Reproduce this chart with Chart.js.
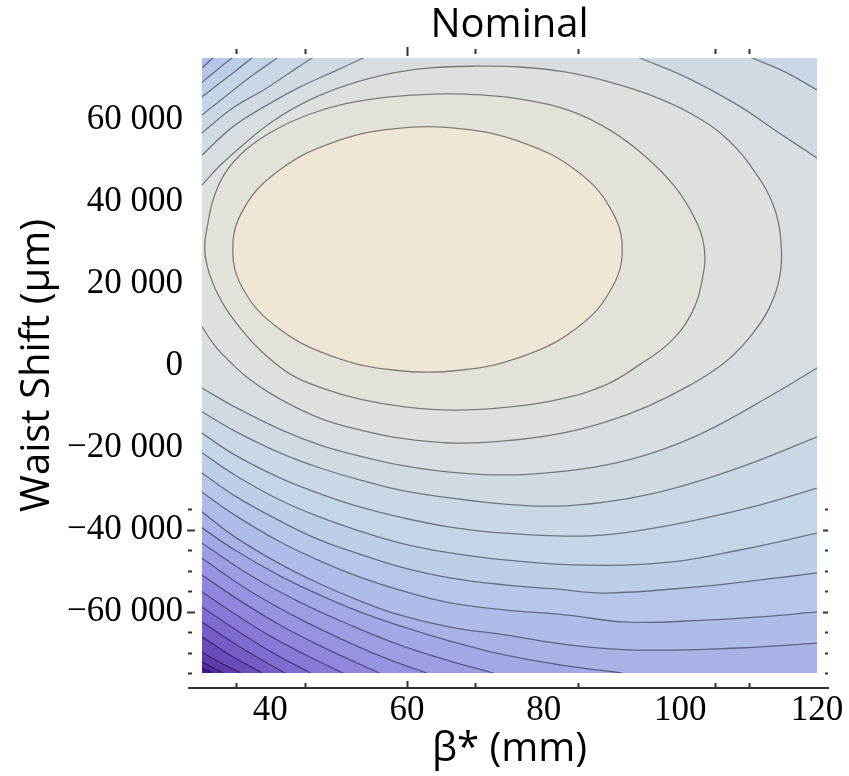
<!DOCTYPE html>
<html>
<head>
<meta charset="utf-8">
<script src="https://cdn.jsdelivr.net/npm/chart.js@4/dist/chart.umd.min.js"></script>
<style>
  html, body { margin: 0; padding: 0; background: #ffffff; }
  canvas { display: block; }
</style>
</head>
<body>
<canvas id="chart" width="849" height="776"></canvas>
<script>
// Scan window: β* in mm, waist shift in µm
const betaRange = [30, 120];
const shiftRange = [-75000, 75000];

// Labelled axis ticks
const betaTicks = [40, 60, 80, 100, 120];
const shiftTicks = [-60000, -40000, -20000, 0, 20000, 40000, 60000];

// Small frame tick marks
const betaFrameTicks = [35, 45, 60, 70, 85, 105, 110];
const betaFrameMajor = [60];
const shiftFrameTicks = [-35000, -40000, -45000, -50000, -55000, -60000, -65000, -70000, -75000];
const shiftFrameMajor = [-40000, -60000];

// Contour traces as [β*, waist shift] pairs, highest level first.
// Traces that leave the window are split into the visible pieces.
const c01 = [[91.5,28300],[89.7,38500],[84.8,47500],[77.2,54200],[68.0,57700],[58.0,57700],[48.8,54200],[41.2,47500],[36.2,38500],[34.5,28300],[36.2,18100],[41.2,9100],[48.8,2400],[58.0,-1100],[68.0,-1100],[77.2,2400],[84.8,9100],[89.7,18100]];
const c02 = [[30.4,28200],[30.9,35000],[31.8,41300],[33.5,47200],[36.4,52600],[40.4,57200],[45.4,61100],[50.9,63800],[57.5,65500],[64.1,66200],[70.7,66000],[77.3,64800],[83.9,62100],[89.7,57400],[94.8,51100],[99.1,43800],[102.0,36200],[103.5,28700],[103.2,20900],[101.6,12600],[98.5,5700],[94.2,400],[89.0,-4800],[82.4,-8200],[75.1,-10100],[67.0,-10900],[59.7,-10100],[53.1,-8200],[47.6,-5500],[42.9,-2100],[38.8,3300],[35.6,9100],[32.9,15500],[31.2,21800]];
const c03 = [[30.0,44000],[32.6,48700],[36.0,53800],[40.2,59400],[45.4,64500],[51.2,68400],[57.8,71300],[63.4,72600],[70.0,73000],[76.5,72800],[83.1,71600],[89.7,69100],[96.3,65500],[102.1,60900],[107.0,55000],[110.9,47200],[113.6,39100],[114.7,30600],[114.6,22100],[113.0,14000],[110.2,7000],[106.4,600],[101.4,-4800],[95.3,-9900],[89.0,-13800],[82.1,-16700],[74.3,-18400],[66.3,-18900],[59.0,-17700],[53.1,-15700],[48.0,-13300],[43.6,-10100],[39.7,-6500],[36.4,-2600],[34.1,900],[31.9,4800],[30.0,9400]];
const c04TopLeft = [[30.0,51300],[34.5,58200],[39.5,63500],[44.3,67900],[49.2,71600],[53.6,75000]];
const c04TopRight = [[94.1,75000],[101.1,70100],[108.4,63500],[114.3,56900],[120.0,50600]];
const c04Lower = [[120.0,-600],[113.4,-7200],[103.6,-16200],[96.3,-21100],[89.0,-24300],[81.7,-26000],[74.3,-26700],[66.3,-26000],[59.0,-24300],[53.1,-22100],[47.3,-19400],[41.6,-15700],[34.8,-10100],[30.0,-5500]];
const c05TopLeft = [[30.0,56700],[34.5,62800],[39.5,67700],[43.9,72600],[46.1,75000]];
const c05TopRight = [[110.5,75000],[115.3,71600],[120.0,67200]];
const c05Lower = [[120.0,-17400],[111.7,-23000],[103.6,-27700],[96.3,-31100],[89.0,-33300],[81.7,-34300],[74.3,-33800],[66.3,-32300],[59.0,-30400],[53.1,-27900],[47.3,-25000],[41.4,-21300],[34.8,-16000],[30.0,-11300]];
const c06TopLeft = [[30.0,61100],[33.7,66000],[37.5,70900],[41.0,75000]];
const c06Lower = [[120.0,-29900],[111.7,-34000],[103.6,-37200],[96.3,-39600],[89.0,-41300],[83.1,-41600],[74.3,-40900],[66.3,-39400],[59.0,-37000],[53.1,-34500],[47.3,-31300],[41.4,-27400],[34.8,-21800],[30.0,-16500]];
const c07TopLeft = [[30.0,65500],[32.6,68900],[35.1,72100],[37.3,75000]];
const c07Lower = [[120.0,-40900],[108.7,-45000],[98.8,-47900],[86.5,-48700],[74.3,-47400],[66.3,-45700],[59.0,-43300],[53.1,-40400],[47.3,-37000],[41.4,-32800],[34.8,-26700],[30.0,-21300]];
const c08TopLeft = [[30.0,69100],[32.2,72100],[34.4,75000]];
const c08Lower = [[120.0,-50600],[111.7,-52300],[103.6,-53800],[89.0,-55500],[81.7,-54500],[74.3,-53500],[66.3,-51800],[59.0,-49100],[53.1,-46000],[47.3,-42600],[41.4,-37900],[34.8,-31800],[30.0,-26200]];
const c09TopLeft = [[30.0,72600],[31.6,75000]];
const c09Lower = [[120.0,-60100],[111.7,-61300],[103.6,-62100],[92.3,-62600],[83.1,-60800],[74.3,-59600],[66.3,-57900],[59.0,-54800],[53.1,-51600],[47.3,-47700],[41.4,-43000],[34.8,-36500],[30.0,-30900]];
const c10 = [[120.0,-67700],[108.4,-68900],[93.8,-69400],[83.9,-68200],[74.3,-65700],[66.3,-63800],[59.0,-60900],[53.1,-57400],[47.3,-53300],[41.4,-48400],[34.8,-41800],[30.0,-35700]];
const c11 = [[91.5,-75000],[82.4,-73000],[74.3,-70600],[66.3,-67200],[59.0,-63500],[53.1,-60100],[47.3,-56000],[41.4,-51300],[34.8,-45000],[30.0,-39600]];
const c12 = [[72.6,-75000],[66.3,-72100],[59.0,-68200],[51.7,-63300],[44.3,-57700],[37.0,-51100],[30.0,-43300]];
const c13 = [[62.9,-75000],[57.5,-71800],[51.7,-67700],[44.3,-61800],[37.0,-55000],[30.0,-47000]];
const c14 = [[56.0,-75000],[51.7,-71800],[47.3,-68400],[41.4,-63300],[35.6,-57400],[30.0,-51100]];
const c15 = [[50.6,-75000],[45.8,-71100],[40.2,-66200],[34.8,-60600],[30.0,-55200]];
const c16 = [[45.9,-75000],[40.7,-70400],[35.6,-65200],[30.0,-58900]];
const c17 = [[42.1,-75000],[36.0,-69100],[30.0,-62600]];
const c18 = [[38.8,-75000],[34.4,-70900],[30.0,-66200]];
const c19 = [[35.7,-75000],[32.8,-72600],[30.0,-69900]];
const c20 = [[33.1,-75000],[30.0,-72300]];
const c21 = [[31.5,-75000],[30.0,-73800]];

// Band fills, from the innermost contour outwards to the lowest corner
const bandColors = ['#F0E6D5','#E3E2DA','#DDE0DD','#D7DDE0','#D0DAE3','#CAD8E6','#C4D5E8','#BDCEE9','#B6C5E9','#AFBBE8','#A9B1E7','#A3A7E6','#9D9DE4','#9792E1','#9086DD','#8879D8','#7F6BD1','#765CC8','#6B4CBD','#603CB1','#552BA3','#4A1A95'];

const contourArcs = [
  [c01], [c02], [c03],
  [c04TopLeft, c04TopRight, c04Lower],
  [c05TopLeft, c05TopRight, c05Lower],
  [c06TopLeft, c06Lower],
  [c07TopLeft, c07Lower],
  [c08TopLeft, c08Lower],
  [c09TopLeft, c09Lower],
  [c10], [c11], [c12], [c13], [c14], [c15], [c16], [c17], [c18], [c19], [c20], [c21]
];

// ---- closing clipped traces around the outside of the window ----
const [X_MIN, X_MAX] = betaRange;
const [Y_MIN, Y_MAX] = shiftRange;
const EPS = 1e-9;

function edgeOf(p) {
  if (p[0] <= X_MIN + EPS) return 'left';
  if (p[0] >= X_MAX - EPS) return 'right';
  if (p[1] >= Y_MAX - EPS) return 'top';
  if (p[1] <= Y_MIN + EPS) return 'bottom';
  return null;
}
// position along the frame, clockwise on screen, starting at the lower-left corner
function perimeter(p) {
  const e = edgeOf(p);
  if (e === 'left') return (p[1] - Y_MIN) / (Y_MAX - Y_MIN);
  if (e === 'top') return 1 + (p[0] - X_MIN) / (X_MAX - X_MIN);
  if (e === 'right') return 2 + (Y_MAX - p[1]) / (Y_MAX - Y_MIN);
  return 3 + (X_MAX - p[0]) / (X_MAX - X_MIN);
}
const outX = (X_MAX - X_MIN) * 0.07;
const outY = (Y_MAX - Y_MIN) * 0.055;
const outerCorners = [
  [1, [X_MIN - outX, Y_MAX + outY]],
  [2, [X_MAX + outX, Y_MAX + outY]],
  [3, [X_MAX + outX, Y_MIN - outY]],
  [4, [X_MIN - outX, Y_MIN - outY]]
];
// continue a trace from q through edge point p to just outside the window
function beyond(p, q) {
  let x = 2 * p[0] - q[0];
  let y = 2 * p[1] - q[1];
  const e = edgeOf(p);
  if (e === 'left') x = Math.min(x, X_MIN - outX * 0.3);
  if (e === 'right') x = Math.max(x, X_MAX + outX * 0.3);
  if (e === 'top') y = Math.max(y, Y_MAX + outY * 0.3);
  if (e === 'bottom') y = Math.min(y, Y_MIN - outY * 0.3);
  return [x, y];
}
function walkOutside(arcA, arcB) {
  const from = arcA[arcA.length - 1], fromNb = arcA[arcA.length - 2];
  const to = arcB[0], toNb = arcB[1];
  const s0 = perimeter(from);
  let s1 = perimeter(to);
  if (s1 <= s0) s1 += 4;
  const pts = [beyond(from, fromNb)];
  [0, 4].forEach(shift => {
    outerCorners.forEach(([s, c]) => {
      if (s + shift > s0 && s + shift < s1) pts.push(c);
    });
  });
  pts.push(beyond(to, toNb));
  return pts;
}
const isClosed = arcs => arcs.length === 1 && edgeOf(arcs[0][0]) === null;
function contourShape(arcs) {
  if (isClosed(arcs)) return arcs[0].slice();
  const pts = [];
  arcs.forEach((arc, i) => {
    pts.push(...arc);
    pts.push(...walkOutside(arc, arcs[(i + 1) % arcs.length]));
  });
  return pts;
}
const closedFlags = contourArcs.map(isClosed);

const datasets = contourArcs.map((arcs, i) => ({
  data: contourShape(arcs).map(([x, y]) => ({ x, y })),
  showLine: true,
  spanGaps: true,
  fill: 'shape',
  backgroundColor: bandColors[i],
  borderColor: 'rgba(0,0,0,0.45)',
  borderWidth: 1.3,
  pointRadius: 0,
  pointHoverRadius: 0,
  pointHitRadius: 0,
  tension: 0.4,
  capBezierPoints: false,
  clip: 0
}));

function shiftLabel(v) {
  if (v === 0) return '0';
  const s = String(Math.abs(v));
  return (v < 0 ? '\u2212' : '') + s.slice(0, s.length - 3) + ' ' + s.slice(-3);
}

// closed traces are drawn as smooth loops
const closedTraces = {
  id: 'closedTraces',
  afterDatasetUpdate(chart, args) {
    const line = args.meta.dataset;
    if (line && closedFlags[args.index]) {
      line._loop = true;
      line._fullLoop = true;
    }
  }
};

// lowest band underneath all contour fills
const plotBackground = {
  id: 'plotBackground',
  beforeDatasetsDraw(chart) {
    const { ctx, chartArea: a } = chart;
    ctx.save();
    ctx.fillStyle = bandColors[bandColors.length - 1];
    ctx.fillRect(a.left, a.top, a.right - a.left, a.bottom - a.top);
    ctx.restore();
  }
};

// axis line under the plot and the small frame tick marks
const frameMarks = {
  id: 'frameMarks',
  afterDraw(chart) {
    const { ctx, chartArea: a, scales: { x, y } } = chart;
    ctx.save();
    ctx.strokeStyle = '#333333';
    ctx.lineWidth = 2;
    ctx.beginPath();
    ctx.moveTo(a.left - 14, a.bottom + 15);
    ctx.lineTo(a.right + 12, a.bottom + 15);
    ctx.stroke();
    ctx.beginPath();
    betaFrameTicks.forEach(v => {
      const px = Math.round(x.getPixelForValue(v)) + 0.5;
      const major = betaFrameMajor.includes(v);
      ctx.moveTo(px, a.bottom + 15);
      ctx.lineTo(px, a.bottom + (major ? 8 : 10));
      ctx.moveTo(px, a.top - (major ? 11 : 9));
      ctx.lineTo(px, a.top - (major ? 2 : 4));
    });
    shiftFrameTicks.forEach(v => {
      const py = Math.round(y.getPixelForValue(v)) + 0.5;
      const major = shiftFrameMajor.includes(v);
      ctx.moveTo(a.left - (major ? 15 : 14), py);
      ctx.lineTo(a.left - (major ? 7 : 10), py);
      ctx.moveTo(a.right + (major ? 6 : 8), py);
      ctx.lineTo(a.right + 11, py);
    });
    ctx.stroke();
    ctx.restore();
  }
};

const tickFont = { family: "'Liberation Serif', 'DejaVu Serif', serif", size: 35 };
const titleFont = { family: "'Open Sans', 'Noto Sans', sans-serif", size: 40, weight: 'normal' };

new Chart(document.getElementById('chart'), {
  type: 'scatter',
  data: { datasets },
  options: {
    responsive: false,
    devicePixelRatio: 1,
    animation: false,
    events: [],
    layout: { padding: { left: 0, right: 32, top: 0, bottom: 0 } },
    plugins: {
      legend: { display: false },
      tooltip: { enabled: false },
      title: {
        display: true,
        text: 'Nominal',
        fullSize: false,
        color: '#000000',
        font: titleFont,
        padding: { top: 2, bottom: 8 }
      }
    },
    scales: {
      x: {
        type: 'linear',
        min: X_MIN,
        max: X_MAX,
        grid: { display: false, drawTicks: false },
        border: { display: false },
        afterBuildTicks(scale) { scale.ticks = betaTicks.map(v => ({ value: v })); },
        afterFit(scale) { scale.height = 103; scale.paddingLeft = 0; scale.paddingRight = 0; },
        ticks: {
          color: '#000000',
          font: tickFont,
          padding: 17,
          maxRotation: 0,
          autoSkip: false,
          callback: v => String(v)
        },
        title: {
          display: true,
          text: 'β* (mm)',
          color: '#000000',
          font: titleFont,
          padding: { top: 0, bottom: 2 }
        }
      },
      y: {
        type: 'linear',
        min: Y_MIN,
        max: Y_MAX,
        grid: { display: false, drawTicks: false },
        border: { display: false },
        afterBuildTicks(scale) { scale.ticks = shiftTicks.map(v => ({ value: v })); },
        afterFit(scale) { scale.width = 202; scale.paddingTop = 0; scale.paddingBottom = 0; },
        ticks: {
          color: '#000000',
          font: tickFont,
          padding: 19,
          autoSkip: false,
          callback: v => shiftLabel(v)
        },
        title: {
          display: true,
          text: 'Waist Shift (µm)',
          color: '#000000',
          font: titleFont,
          padding: { top: 14, bottom: 0 }
        }
      }
    }
  },
  plugins: [closedTraces, plotBackground, frameMarks]
});
</script>
</body>
</html>
